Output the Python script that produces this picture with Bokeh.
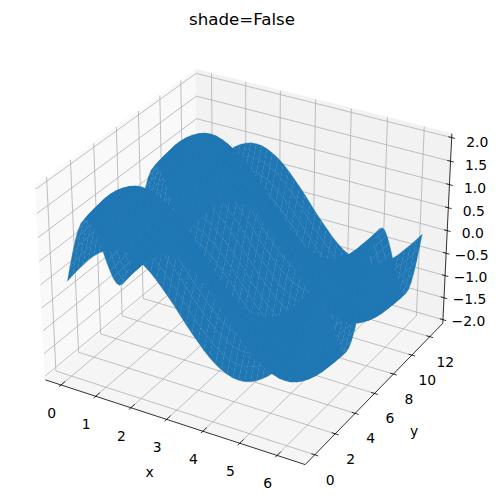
import numpy as np
from bokeh.plotting import figure
from bokeh.models import Range1d
from bokeh.core.properties import value
from bokeh.embed import file_html
from bokeh.resources import INLINE

TITLE = "shade=False"
X_TICKS = [0, 1, 2, 3, 4, 5, 6]
Y_TICKS = [0, 2, 4, 6, 8, 10, 12]
Z_TICKS = [-2.0, -1.5, -1.0, -0.5, 0.0, 0.5, 1.0, 1.5, 2.0]
Z_LABELS = ["\u22122.0", "\u22121.5", "\u22121.0", "\u22120.5", "0.0", "0.5", "1.0", "1.5", "2.0"]

# sample positions of the surface
x_grid = [0, .157, .314, .471, .628, .785, .942, 1.1, 1.257, 1.414, 1.571, 1.728, 1.885, 2.042, 2.199, 2.356,
          2.513, 2.67, 2.827, 2.985, 3.142, 3.299, 3.456, 3.613, 3.77, 3.927, 4.084, 4.241, 4.398, 4.555,
          4.712, 4.869, 5.027, 5.184, 5.341, 5.498, 5.655, 5.812, 5.969, 6.126, 6.283]
y_grid = [0, .262, .524, .785, 1.047, 1.309, 1.571, 1.833, 2.094, 2.356, 2.618, 2.88, 3.142, 3.403, 3.665, 3.927,
          4.189, 4.451, 4.712, 4.974, 5.236, 5.498, 5.76, 6.021, 6.283, 6.545, 6.807, 7.069, 7.33, 7.592, 7.854,
          8.116, 8.378, 8.639, 8.901, 9.163, 9.425, 9.687, 9.948, 10.21, 10.472, 10.734, 10.996, 11.257, 11.519,
          11.781, 12.043, 12.305, 12.566]

# surface heights over one repeat of y (the picture shows two repeats), one list per height level of the x profile
a0 = [0, .26, .5, .71, .87, .97, 1, .97, .87, .71, .5, .26, 0, -.26, -.5, -.71, -.87, -.97, -1, -.97, -.87, -.71, -.5, -.26]
p16 = [.16, .42, .66, .87, 1.03, 1.13, 1.16, 1.13, 1.03, .87, .66, .42, .16, -.10, -.34, -.55, -.71, -.81, -.84, -.81, -.71, -.55, -.34, -.10]
p31 = [.31, .57, .81, 1.02, 1.18, 1.28, 1.31, 1.28, 1.18, 1.02, .81, .57, .31, .05, -.19, -.40, -.56, -.66, -.69, -.66, -.56, -.40, -.19, .05]
p45 = [.45, .71, .95, 1.16, 1.32, 1.42, 1.45, 1.42, 1.32, 1.16, .95, .71, .45, .19, -.05, -.26, -.42, -.52, -.55, -.52, -.42, -.26, -.05, .19]
p59 = [.59, .85, 1.09, 1.30, 1.46, 1.56, 1.59, 1.56, 1.46, 1.30, 1.09, .85, .59, .33, .09, -.12, -.28, -.38, -.41, -.38, -.28, -.12, .09, .33]
p71 = [.71, .97, 1.21, 1.42, 1.58, 1.68, 1.71, 1.68, 1.58, 1.42, 1.21, .97, .71, .45, .21, 0, -.16, -.26, -.29, -.26, -.16, 0, .21, .45]
p81 = [.81, 1.07, 1.31, 1.52, 1.68, 1.78, 1.81, 1.78, 1.68, 1.52, 1.31, 1.07, .81, .55, .31, .10, -.06, -.16, -.19, -.16, -.06, .10, .31, .55]
p89 = [.89, 1.15, 1.39, 1.60, 1.76, 1.86, 1.89, 1.86, 1.76, 1.60, 1.39, 1.15, .89, .63, .39, .18, .02, -.08, -.11, -.08, .02, .18, .39, .63]
p95 = [.95, 1.21, 1.45, 1.66, 1.82, 1.92, 1.95, 1.92, 1.82, 1.66, 1.45, 1.21, .95, .69, .45, .24, .08, -.02, -.05, -.02, .08, .24, .45, .69]
p99 = [.99, 1.25, 1.49, 1.70, 1.86, 1.96, 1.99, 1.96, 1.86, 1.70, 1.49, 1.25, .99, .73, .49, .28, .12, .02, -.01, .02, .12, .28, .49, .73]
p100 = [1, 1.26, 1.5, 1.71, 1.87, 1.97, 2, 1.97, 1.87, 1.71, 1.5, 1.26, 1, .74, .5, .29, .13, .03, 0, .03, .13, .29, .5, .74]
n16 = [-.16, .10, .34, .55, .71, .81, .84, .81, .71, .55, .34, .10, -.16, -.42, -.66, -.87, -1.03, -1.13, -1.16, -1.13, -1.03, -.87, -.66, -.42]
n31 = [-.31, -.05, .19, .40, .56, .66, .69, .66, .56, .40, .19, -.05, -.31, -.57, -.81, -1.02, -1.18, -1.28, -1.31, -1.28, -1.18, -1.02, -.81, -.57]
n45 = [-.45, -.19, .05, .26, .42, .52, .55, .52, .42, .26, .05, -.19, -.45, -.71, -.95, -1.16, -1.32, -1.42, -1.45, -1.42, -1.32, -1.16, -.95, -.71]
n59 = [-.59, -.33, -.09, .12, .28, .38, .41, .38, .28, .12, -.09, -.33, -.59, -.85, -1.09, -1.30, -1.46, -1.56, -1.59, -1.56, -1.46, -1.30, -1.09, -.85]
n71 = [-.71, -.45, -.21, 0, .16, .26, .29, .26, .16, 0, -.21, -.45, -.71, -.97, -1.21, -1.42, -1.58, -1.68, -1.71, -1.68, -1.58, -1.42, -1.21, -.97]
n81 = [-.81, -.55, -.31, -.10, .06, .16, .19, .16, .06, -.10, -.31, -.55, -.81, -1.07, -1.31, -1.52, -1.68, -1.78, -1.81, -1.78, -1.68, -1.52, -1.31, -1.07]
n89 = [-.89, -.63, -.39, -.18, -.02, .08, .11, .08, -.02, -.18, -.39, -.63, -.89, -1.15, -1.39, -1.60, -1.76, -1.86, -1.89, -1.86, -1.76, -1.60, -1.39, -1.15]
n95 = [-.95, -.69, -.45, -.24, -.08, .02, .05, .02, -.08, -.24, -.45, -.69, -.95, -1.21, -1.45, -1.66, -1.82, -1.92, -1.95, -1.92, -1.82, -1.66, -1.45, -1.21]
n99 = [-.99, -.73, -.49, -.28, -.12, -.02, .01, -.02, -.12, -.28, -.49, -.73, -.99, -1.25, -1.49, -1.70, -1.86, -1.96, -1.99, -1.96, -1.86, -1.70, -1.49, -1.25]
n100 = [-1, -.74, -.5, -.29, -.13, -.03, 0, -.03, -.13, -.29, -.5, -.74, -1, -1.26, -1.5, -1.71, -1.87, -1.97, -2, -1.97, -1.87, -1.71, -1.5, -1.26]
z_rows = [a0, p16, p31, p45, p59, p71, p81, p89, p95, p99, p100, p99, p95, p89, p81, p71, p59, p45, p31, p16,
          a0, n16, n31, n45, n59, n71, n81, n89, n95, n99, n100, n99, n95, n89, n81, n71, n59, n45, n31, n16, a0]

# view limits of the 3D axes and the padded pane limits
XLIM, YLIM, ZLIM = (-0.314, 6.597), (-0.628, 13.195), (-2.0, 2.0)
def padded(lim):
    d = (lim[1] - lim[0]) / 48
    return lim[0] - d, lim[1] + d
XP, YP, ZP = padded(XLIM), padded(YLIM), padded(ZLIM)

elev, azim, dist = np.radians(30), np.radians(-60), 10.0
box = np.array([4, 4, 3]) * 1.8294640721620434 * 25 / 24 / np.linalg.norm([4, 4, 3])
R = box / 2
w = np.array([np.cos(elev) * np.cos(azim), np.cos(elev) * np.sin(azim), np.sin(elev)])
eye = R + dist * w
u = np.cross([0, 0, 1], w); u /= np.linalg.norm(u)
v = np.cross(w, u)

def raw(x, y, z):
    P = np.stack([(np.asarray(x, float) - XLIM[0]) / (XLIM[1] - XLIM[0]) * box[0],
                  (np.asarray(y, float) - YLIM[0]) / (YLIM[1] - YLIM[0]) * box[1],
                  (np.asarray(z, float) - ZLIM[0]) / (ZLIM[1] - ZLIM[0]) * box[2]], -1) - eye
    d = -(P @ w)
    return (P @ u) / d, (P @ v) / d

# pixel placement of the 3D box, from its corners in the picture
anchors = [((XP[0], YP[0], ZP[0]), (44.3, 379.3)), ((XP[1], YP[0], ZP[0]), (305.0, 464.3)),
           ((XP[1], YP[1], ZP[0]), (442.7, 321.7)), ((XP[1], YP[1], ZP[1]), (451.0, 132.7)),
           ((XP[0], YP[1], ZP[1]), (195.0, 68.3)), ((XP[0], YP[0], ZP[1]), (35.7, 186.7))]
A = np.array([raw(*a[0]) for a in anchors])
B = np.array([a[1] for a in anchors])
cx = np.polyfit(A[:, 0], B[:, 0], 1)
cy = np.polyfit(A[:, 1], B[:, 1], 1)

def proj(x, y, z):
    X, Y = raw(x, y, z)
    return (cx[0] * X + cx[1]).tolist(), (cy[0] * Y + cy[1]).tolist()

p = figure(width=490, height=496, x_range=Range1d(0, 490), y_range=Range1d(496, 0),
           output_backend="svg", toolbar_location=None, min_border=0)
p.axis.visible = False
p.grid.visible = False
p.outline_line_color = None
p.background_fill_color = "white"

# panes
pane_list = [
    ([XP[0]] * 4, [YP[0], YP[1], YP[1], YP[0]], [ZP[0], ZP[0], ZP[1], ZP[1]], "#f9f9f9"),
    ([XP[0], XP[1], XP[1], XP[0]], [YP[1]] * 4, [ZP[0], ZP[0], ZP[1], ZP[1]], "#f2f2f2"),
    ([XP[0], XP[1], XP[1], XP[0]], [YP[0], YP[0], YP[1], YP[1]], [ZP[0]] * 4, "#f5f5f5"),
]
for px_, py_, pz_, col in pane_list:
    sx, sy = proj(px_, py_, pz_)
    p.patch(sx, sy, fill_color=col, line_color=col, line_width=1)

# gridlines
gx, gy = [], []
for t in X_TICKS:
    a, b = proj([t, t, t], [YP[0], YP[1], YP[1]], [ZP[0], ZP[0], ZP[1]]); gx.append(a); gy.append(b)
for t in Y_TICKS:
    a, b = proj([XP[1], XP[0], XP[0]], [t, t, t], [ZP[0], ZP[0], ZP[1]]); gx.append(a); gy.append(b)
for t in Z_TICKS:
    a, b = proj([XP[0], XP[0], XP[1]], [YP[0], YP[1], YP[1]], [t, t, t]); gx.append(a); gy.append(b)
p.multi_line(gx, gy, line_color="#b0b0b0", line_width=0.8)

# axis lines and ticks
ax_x, ax_y = [], []
for seg in [([XP[0], XP[1]], [YP[0], YP[0]], [ZP[0], ZP[0]]),
            ([XP[1], XP[1]], [YP[0], YP[1]], [ZP[0], ZP[0]]),
            ([XP[1], XP[1]], [YP[1], YP[1]], [ZP[0], ZP[1]])]:
    a, b = proj(*seg); ax_x.append(a); ax_y.append(b)
for t in X_TICKS:
    a, b = proj([t, t], [YP[0] - .18, YP[0] + .36], [ZP[0], ZP[0]]); ax_x.append(a); ax_y.append(b)
for t in Y_TICKS:
    a, b = proj([XP[1] - .09, XP[1] + .09], [t, t], [ZP[0], ZP[0]]); ax_x.append(a); ax_y.append(b)
for t in Z_TICKS:
    a, b = proj([XP[1] - .09, XP[1] + .09], [YP[1], YP[1]], [t, t]); ax_x.append(a); ax_y.append(b)
p.multi_line(ax_x, ax_y, line_color="black", line_width=0.8)

# surface
Z = np.array([r + r + r[:1] for r in z_rows])
xs, ys = [], []
for i in range(len(x_grid) - 1):
    for j in range(len(y_grid) - 1):
        a, b = proj([x_grid[i], x_grid[i + 1], x_grid[i + 1], x_grid[i]],
                    [y_grid[j], y_grid[j], y_grid[j + 1], y_grid[j + 1]],
                    [Z[i, j], Z[i + 1, j], Z[i + 1, j + 1], Z[i, j + 1]])
        xs.append(a); ys.append(b)
p.patches(xs, ys, fill_color="#1f77b4", line_color="#1f77b4", line_width=0.25)

FONT = value("DejaVu Sans")
def label(px_, py_, texts, size="13.9px"):
    p.text(px_, py_, text=texts, text_font=FONT, text_font_size=size, text_color="black",
           text_align="center", text_baseline="middle")

a, b = proj(X_TICKS, [YP[0]] * 7, [ZP[0]] * 7)
label([q - 9.4 for q in a], [q + 28 for q in b], [str(t) for t in X_TICKS])
a, b = proj([XP[1]] * 7, Y_TICKS, [ZP[0]] * 7)
label([q + 15.5 for q in a], [q + 25 for q in b], [str(t) for t in Y_TICKS])
a, b = proj([XP[1]] * 9, [YP[1]] * 9, Z_TICKS)
label([q + 25.5 for q in a], [q + 2.5 + .75 * t for q, t in zip(b, Z_TICKS)], Z_LABELS)
label([149], [471], ["x"])
label([413.7], [430], ["y"])
label([241.5], [19], [TITLE], size="16.67px")

open("out.html", "w").write(file_html(p, INLINE))
